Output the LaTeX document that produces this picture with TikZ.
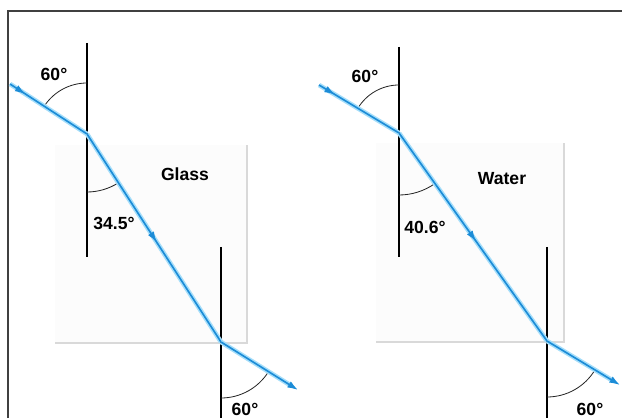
\documentclass[tikz,border=0pt]{standalone}
\usepackage{fontspec}
\setsansfont{Liberation Sans}
\usetikzlibrary{arrows.meta,decorations.markings}
\definecolor{raycol}{RGB}{28,140,215}
\definecolor{glowcol}{RGB}{165,222,250}

\begin{document}
\begin{tikzpicture}[x=0.03cm, y=0.03cm, every node/.style={font=\sffamily\bfseries\fontsize{15}{18}\selectfont, inner sep=0pt},
  midarrow/.style={postaction={decorate, decoration={markings, mark=at position #1 with {\arrow{Latex[length=9pt,width=6pt]}}}}}]
\tikzstyle{normline}=[line width=1.4pt]
\tikzstyle{ray}=[draw=raycol, line width=1.4pt, preaction={draw=glowcol, line width=4pt}]
\tikzstyle{anglearc}=[line width=0.7pt, black!85]
\tikzstyle{slab}=[fill=black!1]
\tikzstyle{slabshadow}=[draw=black!15, line width=1.3pt]
\useasboundingbox (0,0) rectangle (622,418);
\draw[line width=0.9pt, black!75] (8,0) -- (8,407) -- (622,407);
% glass
\coordinate (inL) at (10,334); \coordinate (hitL) at (87,284);
\coordinate (outL) at (221,76); \coordinate (endL) at (298,28);
\coordinate (nTopL) at (87,375); \coordinate (nBotL) at (87,161);
\coordinate (mTopL) at (221,171); \coordinate (mBotL) at (221,0);
\fill[slab] (55,75) rectangle (247,273);
\draw[slabshadow] (55,75) -- (247,75) -- (247,273);
\draw[normline] (nTopL) -- (nBotL); \draw[normline] (mTopL) -- (mBotL);
\draw[anglearc] ([shift={(90:51)}]hitL) arc[start angle=90, end angle=147, radius=51];
\draw[anglearc] ([shift={(270:58)}]hitL) arc[start angle=270, end angle=303, radius=58];
\draw[anglearc] ([shift={(270:56)}]outL) arc[start angle=270, end angle=328, radius=56];
\draw[ray, midarrow=0.2] (inL) -- (hitL);
\draw[ray, midarrow=0.52] (hitL) -- (outL);
\draw[ray, -{Latex[length=9pt,width=6pt]}] (outL) -- (endL);
\node (incL) at (54,344) {60°};
\node (refL) at (114,195) {34.5°};
\node (glass) at (185,244) {Glass};
\node (exL) at (245,9) {60°};
% water
\coordinate (inR) at (319,333); \coordinate (hitR) at (399,285);
\coordinate (outR) at (547,77); \coordinate (endR) at (620,33);
\coordinate (nTopR) at (399,371); \coordinate (nBotR) at (399,161);
\coordinate (mTopR) at (547,171); \coordinate (mBotR) at (547,0);
\fill[slab] (376,76) rectangle (564,275);
\draw[slabshadow] (376,76) -- (564,76) -- (564,275);
\draw[normline] (nTopR) -- (nBotR); \draw[normline] (mTopR) -- (mBotR);
\draw[anglearc] ([shift={(90:48)}]hitR) arc[start angle=90, end angle=149, radius=48];
\draw[anglearc] ([shift={(270:62)}]hitR) arc[start angle=270, end angle=305, radius=62];
\draw[anglearc] ([shift={(270:56)}]outR) arc[start angle=270, end angle=329, radius=56];
\draw[ray, midarrow=0.2] (inR) -- (hitR);
\draw[ray, midarrow=0.52] (hitR) -- (outR);
\draw[ray, -{Latex[length=9pt,width=6pt]}] (outR) -- (endR);
\node (incR) at (365,342) {60°};
\node (refR) at (425,191) {40.6°};
\node (water) at (502,239) {Water};
\node (exR) at (590,9) {60°};
\end{tikzpicture}
\end{document}
